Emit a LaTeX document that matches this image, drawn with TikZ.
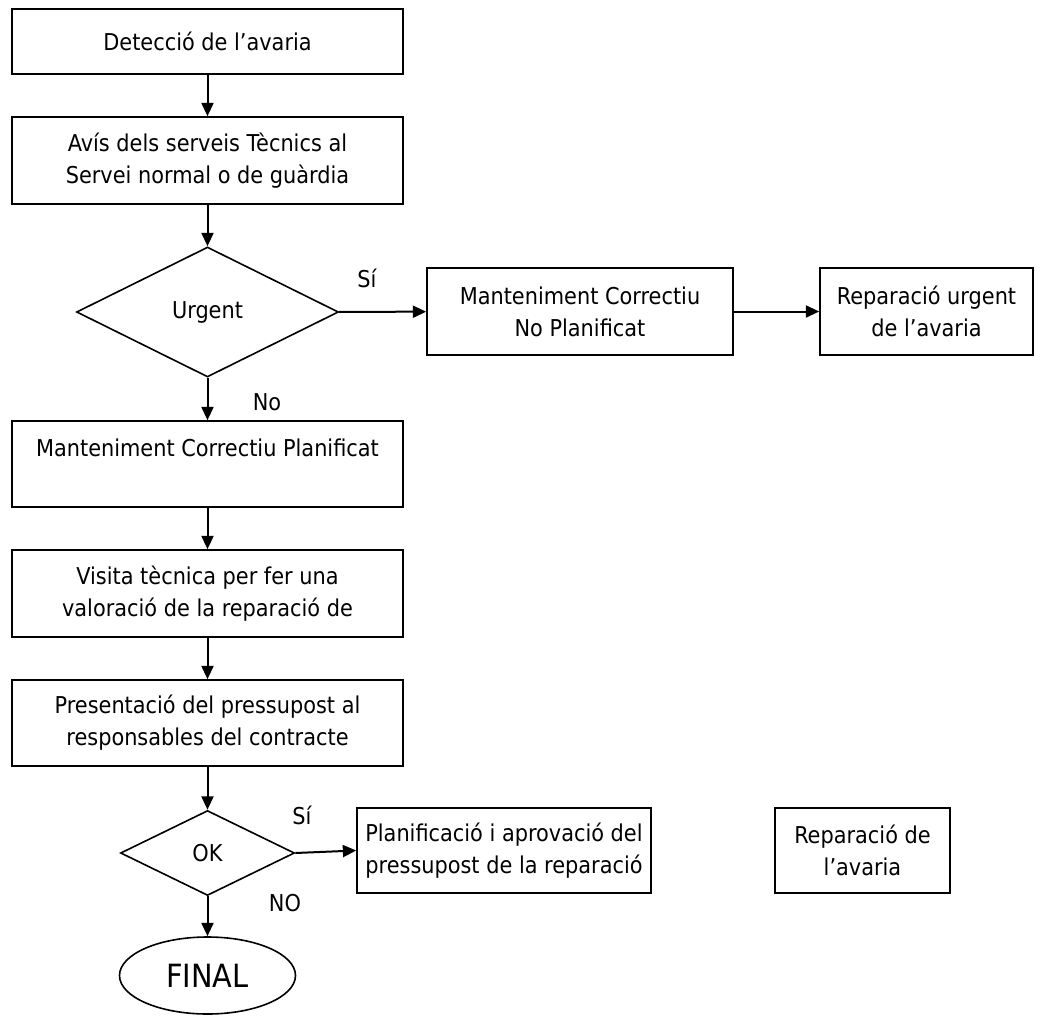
\documentclass[tikz,border=0pt]{standalone}
\usepackage{fontspec}
\setmainfont{DejaVu Sans Condensed}
\usetikzlibrary{shapes.geometric,arrows.meta}

\tikzset{
  caixa/.style={draw,line width=1.2pt,align=center,inner sep=0pt},
  rombe/.style={draw,diamond,line width=1.2pt,inner sep=0pt},
  fletxa/.style={-{Triangle[length=10pt,width=9pt]},line width=1.5pt},
}

\begin{document}
\begin{tikzpicture}[x=0.75pt,y=-0.75pt,font=\fontsize{17.4}{24}\selectfont]
\useasboundingbox (0,0) rectangle (1054,1021);
\node[caixa,minimum width=293pt,minimum height=48.75pt] (det)at(207.5,41.5){Detecció de l’avaria};
\node[caixa,minimum width=293pt,minimum height=65.25pt] (avis)at(207.5,160.5){Avís dels serveis Tècnics al\\Servei normal o de guàrdia};
\node[rombe,minimum width=196.5pt,minimum height=97.5pt] (urg)at(207.5,312){Urgent};
\node[caixa,minimum width=229.5pt,minimum height=65.25pt] (mcnp)at(580,311.5){Manteniment Correctiu\\No Planificat};
\node[caixa,minimum width=159.75pt,minimum height=65.25pt] (rurg)at(926.5,311.5){Reparació urgent\\de l’avaria};
\node[caixa,minimum width=293pt,minimum height=64.5pt] (mcp)at(207.5,464){Manteniment Correctiu Planificat\\\mbox{}};
\node[caixa,minimum width=293pt,minimum height=65.25pt] (vis)at(207.5,593.5){Visita tècnica per fer una\\valoració de la reparació de};
\node[caixa,minimum width=293pt,minimum height=64.5pt] (pres)at(207.5,723){Presentació del pressupost al\\responsables del contracte};
\node[rombe,minimum width=130.5pt,minimum height=63.75pt] (ok)at(207.5,853){OK};
\node[caixa,minimum width=220.5pt,minimum height=63.75pt] (plan)at(504,850.5){Planificació i aprovació del\\pressupost de la reparació};
\node[caixa,minimum width=131.25pt,minimum height=63.75pt] (rep)at(862.5,850.5){Reparació de\\l’avaria};
\node[draw,ellipse,line width=1.2pt,minimum width=132pt,minimum height=57.75pt,inner sep=0pt,font=\fontsize{24}{28}\selectfont] (fin)at(207.5,975.5){FINAL};
\draw[fletxa] (det) to (avis);
\draw[fletxa] (avis) to (urg);
\draw[fletxa] (urg) to (mcnp);
\draw[fletxa] (mcnp) to (rurg);
\draw[fletxa] (urg) to (mcp);
\draw[fletxa] (mcp) to (vis);
\draw[fletxa] (vis) to (pres);
\draw[fletxa] (pres) to (ok);
\draw[fletxa] (ok.east) to (plan.west);
\draw[fletxa] (ok) to (fin);
\node (si1)at(367,278){Sí};
\node (no1)at(267,402){No};
\node (si2)at(302,815){Sí};
\node (no2)at(285,903){NO};
\end{tikzpicture}
\end{document}
